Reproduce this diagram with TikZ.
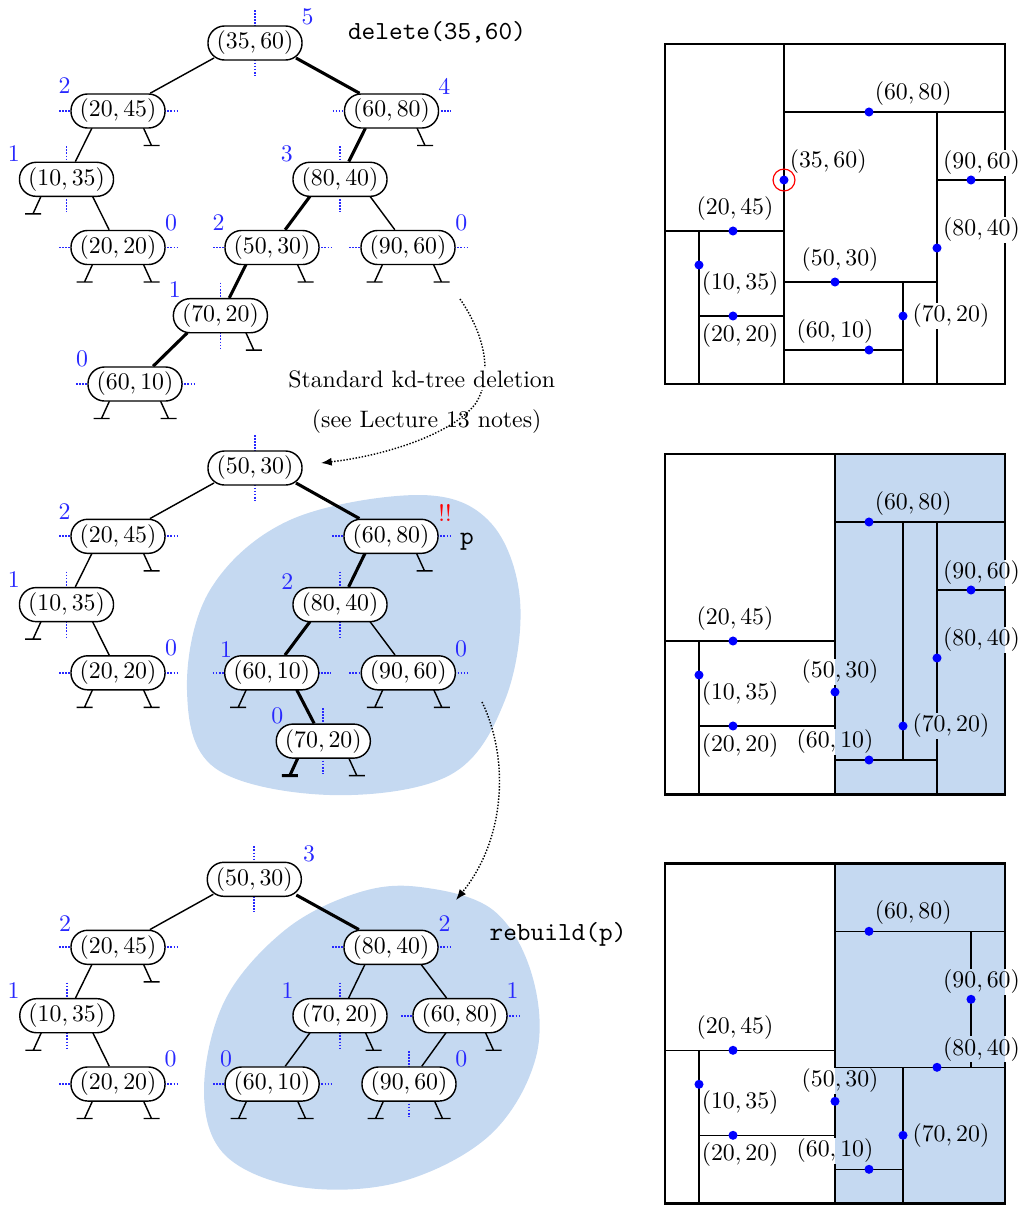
\documentclass[tikz,border=0pt]{standalone}
\usetikzlibrary{calc,arrows.meta}
\pgfdeclarelayer{bg}
\pgfdeclarelayer{mid}
\pgfsetlayers{bg,mid,main}
\definecolor{blobblue}{RGB}{197,217,241}
\definecolor{numblue}{RGB}{40,40,255}
\tikzset{
  tn/.style={draw, line width=0.6pt, fill=white, rounded corners=7pt, minimum width=39.5pt, minimum height=14.3pt, inner sep=0pt},
  tedge/.style={line width=0.6pt},
  thk/.style={line width=1.3pt},
  splitl/.style={numblue, line width=0.7pt, dash pattern=on 0.7pt off 0.6pt},
  num/.style={numblue, inner sep=0pt},
  plab/.style={fill=white, inner sep=0.5pt},
  pline/.style={line width=0.55pt},
  pframe/.style={line width=1.25pt},
  arr/.style={line width=0.6pt, dash pattern=on 0.6pt off 0.7pt, -{Latex[length=4.5pt,width=3.4pt]}},
  blob/.style={fill=blobblue},
  tt/.style={font=\ttfamily\fontsize{10.95}{13}\selectfont},
}
\newcommand\vsp[1]{\draw[splitl] ($(#1)+(0,-33)$) -- ($(#1)+(0,33)$);}
\newcommand\hsp[1]{\draw[splitl] ($(#1)+(-59,0)$) -- ($(#1)+(59,0)$);}
\newcommand\stubL[2][]{\draw[tedge,#1] ($(#2)+(-25.5,17)$) -- ($(#2)+(-33.5,34.5)$) ($(#2)+(-41.5,34.5)$) -- ($(#2)+(-25.5,34.5)$);}
\newcommand\stubR[2][]{\draw[tedge,#1] ($(#2)+(25.5,17)$) -- ($(#2)+(33.5,34.5)$) ($(#2)+(25.5,34.5)$) -- ($(#2)+(41.5,34.5)$);}
\newcommand\tlink[4][]{\draw[tedge,#1] ($(#2)+(#3)$) -- (#4);}
\begin{document}
\begin{tikzpicture}[x=0.42pt, y=-0.42pt]
\useasboundingbox (0,0) rectangle (1021,1205);

% ---------------- blobs ----------------
\begin{pgfonlayer}{bg}
\fill[blob] plot[smooth cycle, tension=0.6] coordinates {(420,495) (490,522) (520,600) (505,700) (450,775) (330,795) (215,768) (187,690) (210,590) (290,520)};
\fill[blob] plot[smooth cycle, tension=0.6] coordinates {(420,887) (493,910) (532,975) (536,1057) (490,1135) (400,1182) (300,1187) (225,1155) (204,1090) (225,1000) (285,930) (357,893)};
\end{pgfonlayer}

% ---------------- top tree ----------------
\node[tn] (A1) at (255,43) {$(35,60)$};
\node[tn] (B1) at (118,111) {$(20,45)$};
\node[tn] (C1) at (391.5,111) {$(60,80)$};
\node[tn] (D1) at (66.5,179.3) {$(10,35)$};
\node[tn] (E1) at (340,179.3) {$(80,40)$};
\node[tn] (F1) at (118,247.5) {$(20,20)$};
\node[tn] (G1) at (272,247.5) {$(50,30)$};
\node[tn] (H1) at (408,247.5) {$(90,60)$};
\node[tn] (I1) at (220.4,315.7) {$(70,20)$};
\node[tn] (J1) at (135,384) {$(60,10)$};
\node[num] (nA1) at (307.5,17.3) {5};
\node[num] (nB1) at (64.7,86) {2};
\node[num] (nC1) at (444.2,86) {4};
\node[num] (nD1) at (13.8,154) {1};
\node[num] (nE1) at (286.8,154) {3};
\node[num] (nF1) at (171.1,222.7) {0};
\node[num] (nG1) at (218.7,222.7) {2};
\node[num] (nH1) at (461.4,222.7) {0};
\node[num] (nI1) at (174.9,290) {1};
\node[num] (nJ1) at (82,359.3) {0};
\begin{pgfonlayer}{mid}
\vsp{A1} \hsp{B1} \hsp{C1} \vsp{D1} \vsp{E1} \hsp{F1} \hsp{G1} \hsp{H1} \vsp{I1} \hsp{J1}
\tlink{A1}{-41,15}{B1}
\tlink[thk]{A1}{41,15}{C1}
\tlink{B1}{-26,17}{D1}
\tlink[thk]{C1}{-26,17}{E1}
\tlink{D1}{26,17}{F1}
\tlink[thk]{E1}{-30,17}{G1}
\tlink{E1}{30,17}{H1}
\tlink[thk]{G1}{-26,17}{I1}
\tlink[thk]{I1}{-33,17}{J1}
\stubR{B1} \stubR{C1} \stubL{D1} \stubL{F1} \stubR{F1} \stubR{G1}
\stubL{H1} \stubR{H1} \stubR{I1} \stubL{J1} \stubR{J1}
\end{pgfonlayer}
\node[anchor=base, tt] (del) at (437,39.3) {delete(35,60)};

% ---------------- middle tree ----------------
\node[tn] (A2) at (255,468) {$(50,30)$};
\node[tn] (B2) at (118,536.3) {$(20,45)$};
\node[tn] (D2) at (66.5,604.6) {$(10,35)$};
\node[tn] (F2) at (118,672.8) {$(20,20)$};
\node[tn] (C2) at (391,536.3) {$(60,80)$};
\node[tn] (E2) at (340,604.6) {$(80,40)$};
\node[tn] (G2) at (271.7,672.8) {$(60,10)$};
\node[tn] (H2) at (408.3,672.8) {$(90,60)$};
\node[tn] (I2) at (323.3,741.1) {$(70,20)$};
\node[num] (nB2) at (64.7,511.3) {2};
\node[num] (nD2) at (13.8,579.3) {1};
\node[num] (nF2) at (171.1,648) {0};
\node[num] (nE2) at (287.3,581.7) {2};
\node[num] (nG2) at (226,649.3) {1};
\node[num] (nH2) at (461,649.3) {0};
\node[num] (nI2) at (277.3,716) {0};
\node[anchor=base, red, inner sep=0pt] (bang) at (445,521.7) {!!};
\node[anchor=base, tt, inner sep=0pt] (pp) at (467,544) {p};
\begin{pgfonlayer}{mid}
\vsp{A2} \hsp{B2} \vsp{D2} \hsp{F2} \hsp{C2} \vsp{E2} \hsp{G2} \hsp{H2} \vsp{I2}
\tlink{A2}{-41,15}{B2}
\tlink[thk]{A2}{41,15}{C2}
\tlink{B2}{-26,17}{D2}
\tlink{D2}{26,17}{F2}
\tlink[thk]{C2}{-26,17}{E2}
\tlink[thk]{E2}{-30,17}{G2}
\tlink{E2}{30,17}{H2}
\tlink[thk]{G2}{25,17}{I2}
\stubR{B2} \stubL{D2} \stubL{F2} \stubR{F2} \stubR{C2} \stubL{G2}
\stubL{H2} \stubR{H2} \stubL[thk]{I2} \stubR{I2}
\end{pgfonlayer}

% ---------------- bottom tree ----------------
\node[tn] (A3) at (254.3,879.3) {$(50,30)$};
\node[tn] (B3) at (118,947.3) {$(20,45)$};
\node[tn] (D3) at (66.8,1015.7) {$(10,35)$};
\node[tn] (F3) at (118,1084) {$(20,20)$};
\node[tn] (C3) at (391,947.3) {$(80,40)$};
\node[tn] (E3) at (340,1015.7) {$(70,20)$};
\node[tn] (K3) at (460,1015.7) {$(60,80)$};
\node[tn] (G3) at (272.1,1084) {$(60,10)$};
\node[tn] (H3) at (409,1084) {$(90,60)$};
\node[num] (nA3) at (309,854) {3};
\node[num] (nB3) at (65,923.3) {2};
\node[num] (nD3) at (13.6,990.7) {1};
\node[num] (nF3) at (170.7,1059.3) {0};
\node[num] (nC3) at (444.6,923.3) {2};
\node[num] (nE3) at (287.5,990.7) {1};
\node[num] (nK3) at (512.5,990.7) {1};
\node[num] (nG3) at (226,1059.3) {0};
\node[num] (nH3) at (461.4,1059.3) {0};
\node[anchor=base, tt] (reb) at (558,940) {rebuild(p)};
\begin{pgfonlayer}{mid}
\vsp{A3} \hsp{B3} \vsp{D3} \hsp{F3} \hsp{C3} \vsp{E3} \hsp{K3} \hsp{G3} \vsp{H3}
\tlink{A3}{-41,15}{B3}
\tlink[thk]{A3}{42,15.7}{C3}
\tlink{B3}{-26,17}{D3}
\tlink{D3}{26,17}{F3}
\tlink{C3}{-26,17}{E3}
\tlink{C3}{30,17}{K3}
\tlink{E3}{-30,17}{G3}
\tlink{K3}{-14,17}{H3}
\stubR{B3} \stubL{D3} \stubL{F3} \stubR{F3} \stubR{E3} \stubR{K3}
\stubL{G3} \stubR{G3} \stubL{H3} \stubR{H3}
\end{pgfonlayer}

% ---------------- arrows and captions ----------------
\coordinate (a1s) at (460,299);
\coordinate (a1e) at (321,463);
\draw[arr] (a1s) .. controls (485,335) and (493,375) .. (476,403) .. controls (455,432) and (390,455) .. (a1e);
\node[anchor=base, fill=white, inner sep=1pt] (cap1) at (421.7,387.3) {Standard kd-tree deletion};
\node[anchor=base, inner sep=1pt] (cap2) at (426.7,427.3) {(see Lecture 13 notes)};
\coordinate (a2s) at (482,702);
\coordinate (a2e) at (456,900);
\draw[arr] (a2s) .. controls (510,760) and (505,840) .. (a2e);

% ---------------- panel 1 ----------------
\begin{scope}[shift={(665,384)}, x=1.428pt, y=1.428pt]
\draw[pline] (35,0)--(35,100) (0,45)--(35,45) (10,0)--(10,45) (10,20)--(35,20)
  (35,80)--(100,80) (80,0)--(80,80) (80,60)--(100,60) (35,30)--(80,30)
  (70,0)--(70,30) (35,10)--(70,10);
\draw[pframe] (0,0) rectangle (100,100);
\foreach \lx/\ly/\t [count=\i] in {73/85.5/{60,80}, 48/65.4/{35,60}, 93.1/65.1/{90,60}, 93.1/45.3/{80,40}, 20.6/51.7/{20,45}, 22.1/29.6/{10,35}, 51.5/36.5/{50,30}, 22.1/14.4/{20,20}, 50/15.4/{60,10}, 84.1/20/{70,20}}
  \node[plab] (pa\i) at (\lx,\ly) {$(\t)$};
\foreach \px/\py [count=\i] in {35/60, 20/45, 10/35, 20/20, 60/80, 80/40, 90/60, 50/30, 70/20, 60/10}
  \fill[blue] (\px,\py) circle[radius=1.9pt] coordinate (qa\i);
\draw[red, line width=0.5pt] (35,60) circle[radius=4.6pt];
\end{scope}

% ---------------- panel 2 ----------------
\begin{scope}[shift={(665,794)}, x=1.428pt, y=1.428pt]
\draw[pline] (50,0)--(50,100) (0,45)--(50,45) (10,0)--(10,45) (10,20)--(50,20)
  (50,80)--(100,80) (80,0)--(80,80) (80,60)--(100,60) (70,10)--(70,80)
  (50,10)--(80,10);
\draw[pframe] (0,0) rectangle (100,100);
\foreach \lx/\ly/\t [count=\i] in {73/85.5/{60,80}, 93.1/65.1/{90,60}, 93.1/45.3/{80,40}, 20.6/51.7/{20,45}, 22.1/29.6/{10,35}, 51.5/36/{50,30}, 22.1/14.4/{20,20}, 50/15.4/{60,10}, 84.1/20/{70,20}}
  \node[plab] (pb\i) at (\lx,\ly) {$(\t)$};
\fill[blobblue, blend mode=multiply] (50,0) rectangle (100,100);
\foreach \px/\py [count=\i] in {20/45, 10/35, 20/20, 60/80, 80/40, 90/60, 50/30, 70/20, 60/10}
  \fill[blue] (\px,\py) circle[radius=1.9pt] coordinate (qb\i);
\end{scope}

% ---------------- panel 3 ----------------
\begin{scope}[shift={(665,1203.3)}, x=1.428pt, y=1.428pt]
\draw[pline] (50,0)--(50,100) (0,45)--(50,45) (10,0)--(10,45) (10,20)--(50,20)
  (50,40)--(100,40) (50,80)--(100,80) (90,40)--(90,80) (70,0)--(70,40)
  (50,10)--(70,10);
\draw[pframe] (0,0) rectangle (100,100);
\foreach \lx/\ly/\t [count=\i] in {73/85.5/{60,80}, 93.1/65.1/{90,60}, 93.1/45.3/{80,40}, 20.6/51.7/{20,45}, 22.1/29.6/{10,35}, 51.5/36/{50,30}, 22.1/14.4/{20,20}, 50/15.4/{60,10}, 84.1/20/{70,20}}
  \node[plab] (pc\i) at (\lx,\ly) {$(\t)$};
\fill[blobblue, blend mode=multiply] (50,0) rectangle (100,100);
\foreach \px/\py [count=\i] in {20/45, 10/35, 20/20, 60/80, 80/40, 90/60, 50/30, 70/20, 60/10}
  \fill[blue] (\px,\py) circle[radius=1.9pt] coordinate (qc\i);
\end{scope}
\end{tikzpicture}
\end{document}
